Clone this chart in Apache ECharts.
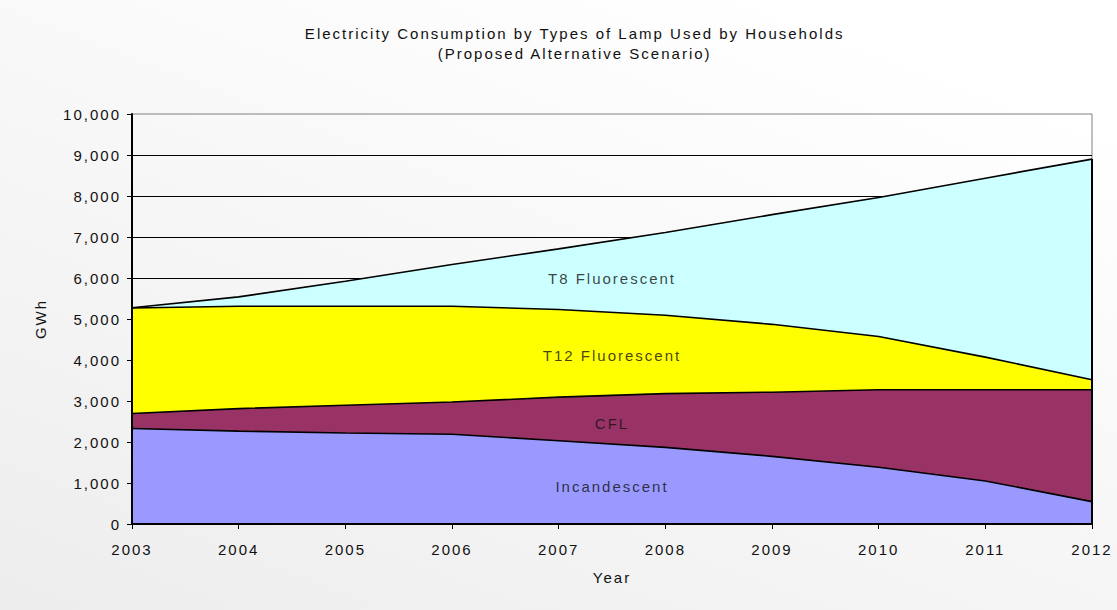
<!DOCTYPE html>
<html>
<head>
<meta charset="utf-8">
<script src="https://cdn.jsdelivr.net/npm/echarts@6/dist/echarts.min.js"></script>
<style>
  html, body { margin: 0; padding: 0; }
  #chart { width: 1117px; height: 610px; }
  /* wide-tracked lettering for every label in the chart */
  #chart text { letter-spacing: 2px; }
</style>
</head>
<body>
<div id="chart"></div>
<script>
// Household lighting electricity use, GWh per year (stacked bottom to top)
const years = ['2003', '2004', '2005', '2006', '2007', '2008', '2009', '2010', '2011', '2012'];
const incandescent = [2330, 2265, 2220, 2190, 2030, 1870, 1650, 1385, 1050, 545];
const cfl          = [365, 550, 675, 785, 1065, 1310, 1565, 1890, 2225, 2730];
const t12          = [2575, 2495, 2415, 2335, 2135, 1910, 1655, 1300, 795, 245];
const t8           = [5, 230, 610, 1020, 1480, 2020, 2675, 3390, 4365, 5380];

const seriesNames  = ['Incandescent', 'CFL', 'T12 Fluorescent', 'T8 Fluorescent'];
const seriesValues = [incandescent, cfl, t12, t8];
const seriesColors = ['#9999FF', '#993366', '#FFFF00', '#CCFFFF'];
// in-area name tags: [year position (0 = 2003), GWh]
const tagAnchors = [[4.5, 925], [4.5, 2457], [4.5, 4112], [4.5, 5985]];
const yTicks = [0, 1000, 2000, 3000, 4000, 5000, 6000, 7000, 8000, 9000, 10000];

const font = '"Liberation Sans", Arial, sans-serif';
const textColor = '#111';
const lastIdx = years.length - 1;
const lastTotal = seriesValues.reduce((s, arr) => s + arr[lastIdx], 0);

const chart = echarts.init(document.getElementById('chart'), null, { renderer: 'svg' });

const areaSeries = seriesNames.map((name, i) => {
  const s = {
    name: name,
    type: 'line',
    stack: 'total',
    xAxisIndex: 0,
    yAxisIndex: 0,
    data: seriesValues[i],
    symbol: 'none',
    lineStyle: { color: '#000', width: 1.6 },
    areaStyle: { color: seriesColors[i], opacity: 1 },
    z: 2
  };
  if (i === seriesNames.length - 1) {
    // closing edge on the right side of the filled region
    s.markLine = {
      silent: true,
      symbol: 'none',
      label: { show: false },
      lineStyle: { color: '#000', width: 2, type: 'solid' },
      data: [[{ coord: [years[lastIdx], 0] }, { coord: [years[lastIdx], lastTotal] }]]
    };
  }
  return s;
});

// series names written inside their bands
const tagSeries = {
  type: 'scatter',
  xAxisIndex: 1,
  yAxisIndex: 0,
  symbolSize: 0,
  silent: true,
  z: 6,
  data: tagAnchors.map((a, i) => ({ value: a, name: seriesNames[i] })),
  label: {
    show: true,
    position: 'inside',
    formatter: p => p.name,
    color: textColor,
    fontSize: 15,
    fontFamily: font
  }
};

const labelStyle = { fontFamily: font, fontSize: 15, color: textColor };

chart.setOption({
  animation: false,
  backgroundColor: {
    type: 'linear', x: 0, y: 1, x2: 0.7, y2: 0,
    colorStops: [
      { offset: 0, color: '#ededed' },
      { offset: 1, color: '#ffffff' }
    ]
  },
  title: {
    text: 'Electricity Consumption by Types of Lamp Used by Households\n(Proposed Alternative Scenario)',
    left: '51%',
    textAlign: 'center',
    top: 18,
    textStyle: {
      fontFamily: font,
      fontSize: 15,
      fontWeight: 'normal',
      color: textColor,
      lineHeight: 20
    }
  },
  grid: {
    left: 132, right: 25, top: 114, bottom: 86,
    show: true,
    borderColor: '#808080',
    borderWidth: 1,
    backgroundColor: 'transparent'
  },
  xAxis: [{
    type: 'category',
    data: years,
    boundaryGap: false,
    name: 'Year',
    nameLocation: 'middle',
    nameGap: 46,
    nameTextStyle: labelStyle,
    axisLine: { lineStyle: { color: '#000', width: 2 } },
    axisTick: { show: true, length: 5, inside: false, alignWithLabel: true, lineStyle: { color: '#000', width: 1 } },
    axisLabel: Object.assign({ margin: 18 }, labelStyle),
    splitLine: { show: false },
    z: 5
  }, {
    type: 'value',
    min: 0,
    max: years.length - 1,
    show: false
  }],
  yAxis: [{
    // gridlines, drawn beneath the filled bands
    type: 'value',
    min: yTicks[0],
    max: yTicks[yTicks.length - 1],
    interval: yTicks[1] - yTicks[0],
    axisLine: { show: false },
    axisTick: { show: false },
    axisLabel: { show: false },
    splitLine: { show: true, showMaxLine: false, showMinLine: false, lineStyle: { color: '#000', width: 1 } },
    z: 0
  }, {
    // axis line, ticks and labels, drawn on top
    type: 'value',
    position: 'left',
    min: yTicks[0],
    max: yTicks[yTicks.length - 1],
    interval: yTicks[1] - yTicks[0],
    name: 'GWh',
    nameLocation: 'middle',
    nameRotate: 90,
    nameGap: 84,
    nameTextStyle: labelStyle,
    axisLine: { show: true, lineStyle: { color: '#000', width: 2 } },
    axisTick: { show: true, length: 5, lineStyle: { color: '#000', width: 1 } },
    axisLabel: Object.assign({ margin: 11, formatter: v => v.toLocaleString('en-US') }, labelStyle),
    splitLine: { show: false },
    z: 5
  }],
  series: areaSeries.concat([tagSeries])
});
</script>
</body>
</html>
